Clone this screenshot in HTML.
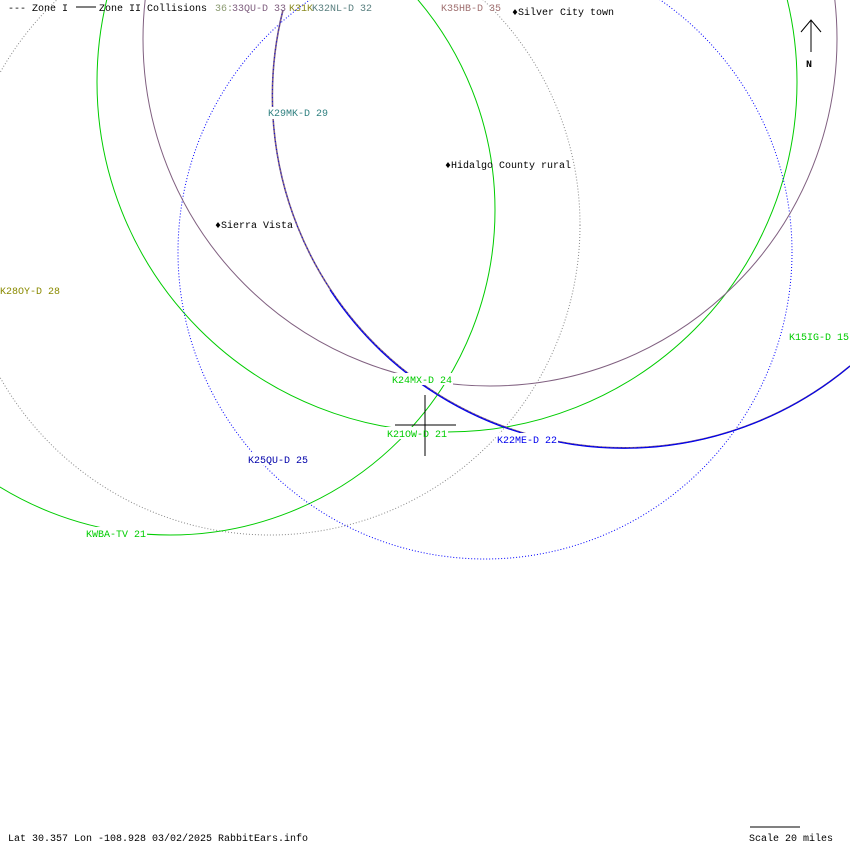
<!DOCTYPE html>
<html><head><style>body{margin:0;background:#fff}svg{display:block}text{font-family:"Liberation Mono","DejaVu Sans Mono",monospace;font-size:10px}</style></head><body>
<svg width="850" height="850" viewBox="0 0 850 850" xmlns="http://www.w3.org/2000/svg">
<rect width="850" height="850" fill="#fff"/>
<g fill="none">
<circle cx="270" cy="225" r="310" stroke="#888" stroke-width="1" stroke-dasharray="1,2"/>
<circle cx="447" cy="82" r="350" stroke="#00cc00" stroke-width="1"/>
<circle cx="170" cy="210" r="325" stroke="#00cc00" stroke-width="1"/>
<circle cx="485" cy="252" r="307" stroke="#0000ff" stroke-width="1" stroke-dasharray="1,2"/>
<circle cx="490" cy="39" r="347" stroke="#806080" stroke-width="1"/>
<path d="M283,10 A352,352 0 0,0 850,366" stroke="#806080" stroke-width="1.6"/>
<path d="M283,10 A352,352 0 0,0 850,366" stroke="#0000ee" stroke-width="1" stroke-dasharray="1,3"/>
<path d="M330,290 A352,352 0 0,0 850,366" stroke="#0000ee" stroke-width="1.1"/>
</g>
<g fill="#fff">
<rect x="391" y="373" width="62" height="12"/>
<rect x="386" y="427" width="62" height="12"/>
<rect x="496" y="433" width="62" height="12"/>
<rect x="85" y="527" width="62" height="12"/>
<rect x="788" y="330" width="62" height="12"/>
<rect x="247" y="453" width="62" height="12"/>
<rect x="267" y="107" width="62" height="12"/>
<rect x="0" y="284" width="62" height="12"/>
</g>
<line x1="425" y1="395" x2="425" y2="456" stroke="#000"/>
<line x1="395" y1="425" x2="456" y2="425" stroke="#000"/>
<line x1="811" y1="20" x2="811" y2="52" stroke="#000"/>
<polyline points="801,32 811,20 821,32" fill="none" stroke="#000"/>
<text x="806" y="67" font-weight="bold">N</text>
<text x="8" y="11" fill="#000">--- Zone I</text>
<line x1="76" y1="7" x2="96" y2="7" stroke="#000"/>
<text x="99" y="11" fill="#000">Zone II Collisions</text>
<text x="215" y="11" fill="#8a9a70">36:</text>
<text x="232" y="11" fill="#806080">33QU-D 33</text>
<text x="289" y="11" fill="#8a8a20">K31K</text>
<text x="312" y="11" fill="#5a8080">K32NL-D 32</text>
<text x="441" y="11" fill="#a07070">K35HB-D 35</text>
<text x="512" y="15" fill="#000">♦Silver City town</text>
<text x="445" y="168" fill="#000">♦Hidalgo County rural</text>
<text x="215" y="228" fill="#000">♦Sierra Vista</text>
<text x="268" y="116" fill="#308080">K29MK-D 29</text>
<text x="0" y="294" fill="#8a8a00">K28OY-D 28</text>
<text x="392" y="383" fill="#00cc00">K24MX-D 24</text>
<text x="387" y="437" fill="#00cc00">K21OW-D 21</text>
<text x="497" y="443" fill="#0000ee">K22ME-D 22</text>
<text x="248" y="463" fill="#0000aa">K25QU-D 25</text>
<text x="86" y="537" fill="#00cc00">KWBA-TV 21</text>
<text x="789" y="340" fill="#00cc00">K15IG-D 15</text>
<text x="8" y="841" fill="#000">Lat 30.357 Lon -108.928 03/02/2025 RabbitEars.info</text>
<line x1="750" y1="827" x2="800" y2="827" stroke="#000"/>
<text x="749" y="841" fill="#000">Scale 20 miles</text>
</svg>
</body></html>
